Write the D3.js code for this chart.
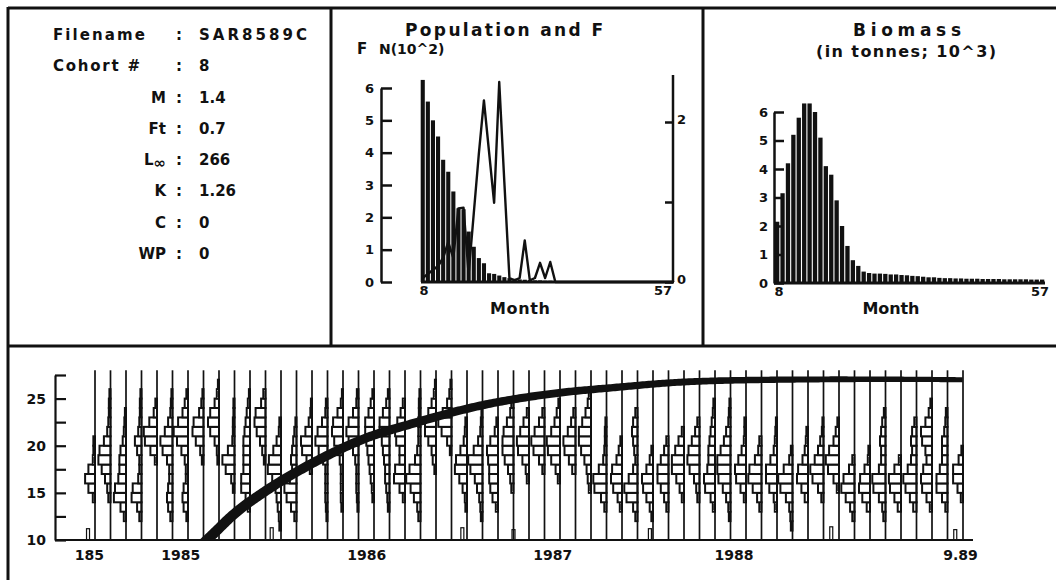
<!DOCTYPE html>
<html>
<head>
<meta charset="utf-8">
<script src="https://cdn.jsdelivr.net/npm/d3@7"></script>
<style>
  body { margin: 0; background: #fff; }
  svg { display: block; }
  text { font-family: "DejaVu Sans", sans-serif; font-weight: bold; fill: #111; }
</style>
</head>
<body>
<div id="chart"></div>
<script>
// ---- run parameters (left panel)
const paramNames = ["Filename", "Cohort #", "M", "Ft", "L", "K", "C", "WP"];
const paramValues = ["SAR8589C", "8", "1.4", "0.7", "266", "1.26", "0", "0"];

// ---- monthly series for top panels (months 8..57)
const months = d3.range(8, 58);
const population = [6.25, 5.58, 5.0, 4.5, 3.78, 3.41, 2.8, 2.28, 2.25, 1.56,
  1.09, 0.74, 0.58, 0.27, 0.25, 0.2, 0.15, 0.12, 0.1, 0.08,
  0.07, 0.06, 0.05, 0.05, 0.04, 0.04, 0.03, 0.03, 0.03, 0.02,
  0.02, 0.02, 0.02, 0.02, 0.01, 0.01, 0.01, 0.01, 0.01, 0.01,
  0.01, 0.01, 0.01, 0.01, 0.01, 0.01, 0.01, 0.01, 0.01, 0.01];
const fishingF = [0.05, 0.1, 0.15, 0.2, 0.3, 0.5, 0.3, 0.92, 0.93, 0.1,
  0.85, 1.6, 2.27, 1.63, 0.99, 2.5, 1.25, 0.05, 0.02, 0.05,
  0.52, 0.02, 0.05, 0.24, 0.05, 0.25, 0, 0, 0, 0,
  0, 0, 0, 0, 0, 0, 0, 0, 0, 0,
  0, 0, 0, 0, 0, 0, 0, 0, 0, 0];
const biomass = [2.15, 3.15, 4.2, 5.2, 5.8, 6.3, 6.3, 6.0, 5.1, 4.1,
  3.8, 2.9, 2.0, 1.3, 0.8, 0.6, 0.4, 0.35, 0.33, 0.33,
  0.32, 0.3, 0.3, 0.28, 0.27, 0.25, 0.24, 0.22, 0.2, 0.2,
  0.18, 0.17, 0.17, 0.16, 0.16, 0.15, 0.15, 0.15, 0.14, 0.14,
  0.14, 0.14, 0.13, 0.13, 0.13, 0.13, 0.13, 0.12, 0.12, 0.12];
const nTicks = [0, 1, 2, 3, 4, 5, 6];
const fTicks = [0, 1, 2];
const fLabels = ["0", "", "2"];

// ---- length-frequency samples (months 1..57): first 1-cm class and % per class
const lfMonths = d3.range(1, 58);
const lfStart = [14, 14, 12, 12, 18, 12, 12, 18, 18, 15,
  13, 18, 11, 12, 17, 12, 13, 13, 14, 13,
  14, 12, 17, 19, 13, 12, 13, 15, 16, 17,
  16, 17, 15, 13, 13, 12, 12, 13, 14, 14,
  13, 12, 14, 13, 13, 11, 14, 14, 15, 12,
  13, 12, 13, 13, 13, 13, 14];
const lfFreq = [
  [4, 12, 18, 12, 4, 3, 3],
  [4, 6, 10, 16, 22, 20, 12, 6, 4, 3, 3, 2],
  [4, 10, 22, 20, 14, 12, 12, 10, 6, 4, 3, 2],
  [4, 8, 18, 16, 6, 4, 4, 8, 12, 6, 4, 3, 3, 2],
  [4, 12, 22, 24, 14, 6, 3],
  [4, 8, 10, 8, 6, 6, 10, 18, 22, 14, 8, 4, 3, 2],
  [3, 8, 10, 8, 4, 4, 6, 12, 20, 26, 18, 10, 6, 3],
  [3, 6, 14, 20, 18, 8, 4, 2],
  [3, 4, 8, 16, 20, 16, 8, 4, 2],
  [3, 6, 16, 22, 12, 4, 3, 3, 2, 2],
  [4, 8, 16, 16, 12, 12, 12, 12, 10, 8, 6, 4, 2],
  [3, 6, 10, 16, 20, 18, 8, 4],
  [3, 4, 6, 8, 10, 16, 24, 22, 14, 8, 4, 3],
  [4, 10, 18, 22, 12, 8, 10, 8, 6, 4, 2],
  [4, 10, 18, 20, 12, 6, 3, 2],
  [2, 3, 4, 4, 4, 4, 8, 16, 22, 18, 10, 4, 3],
  [3, 4, 4, 4, 4, 6, 10, 16, 20, 18, 10, 4, 2],
  [2, 3, 4, 4, 4, 6, 10, 18, 22, 18, 10, 4, 3],
  [3, 4, 6, 8, 10, 12, 14, 16, 16, 10, 6, 3],
  [3, 4, 6, 8, 8, 10, 12, 14, 18, 18, 12, 6, 3],
  [4, 10, 20, 18, 10, 10, 16, 18, 14, 8, 4],
  [4, 6, 12, 18, 26, 20, 10, 6, 4, 4, 4, 3, 3, 2],
  [3, 6, 8, 14, 20, 20, 14, 8, 4, 2],
  [3, 8, 18, 24, 16, 8, 4, 2],
  [3, 4, 8, 14, 22, 20, 12, 6, 4, 3],
  [3, 4, 6, 10, 14, 22, 26, 16, 8, 4, 3, 2],
  [4, 10, 14, 16, 16, 18, 20, 14, 6, 3],
  [4, 6, 10, 16, 20, 20, 18, 12, 6, 4],
  [4, 6, 12, 20, 22, 16, 10, 4],
  [4, 10, 20, 24, 18, 10, 4],
  [4, 8, 16, 22, 24, 16, 10, 6, 3],
  [6, 12, 20, 22, 14, 8, 4],
  [4, 6, 8, 12, 18, 22, 22, 16, 10, 6, 4],
  [4, 10, 22, 24, 14, 6, 4, 3, 3, 2],
  [4, 8, 16, 20, 18, 10, 6, 3],
  [4, 8, 20, 24, 16, 8, 4, 6, 8, 10, 8, 4],
  [3, 6, 12, 18, 20, 12, 6, 3],
  [4, 8, 14, 20, 20, 14, 8, 4],
  [4, 8, 14, 22, 22, 16, 10, 4],
  [4, 6, 10, 18, 22, 20, 14, 8, 4],
  [4, 8, 18, 20, 14, 12, 12, 10, 8, 6, 4, 3],
  [3, 4, 8, 14, 22, 24, 24, 18, 12, 8, 4, 3, 2],
  [4, 10, 18, 20, 14, 8, 4, 3, 3],
  [4, 8, 16, 24, 22, 12, 6, 4],
  [4, 6, 14, 20, 20, 12, 6, 4, 3, 2],
  [3, 4, 6, 12, 22, 26, 16, 6, 3],
  [6, 12, 20, 18, 10, 6, 4, 3],
  [4, 10, 20, 24, 16, 10, 6, 3, 2],
  [4, 10, 20, 24, 18, 10, 6, 3],
  [4, 8, 16, 24, 20, 10, 4],
  [6, 14, 20, 18, 10, 4, 3],
  [4, 6, 12, 22, 24, 12, 8, 8, 10, 8, 6, 3],
  [6, 12, 20, 22, 12, 4],
  [6, 12, 20, 24, 16, 10, 8, 10, 8, 4],
  [4, 10, 18, 20, 16, 10, 12, 18, 20, 12, 6, 3],
  [4, 10, 20, 20, 14, 10, 10, 10, 6, 4, 3],
  [4, 10, 18, 18, 8, 3]
];
// small stubs near the baseline
const stubMonth = [0.55, 12.4, 24.7, 28.0, 36.8, 48.5, 56.5];
const stubTop = [11.2, 11.3, 11.3, 11.1, 11.2, 11.4, 11.1];

// growth curve
const growthMonth = [7.9, 8.6, 9.9, 12.1, 14.2, 16.4, 18.0, 21.8, 26.0, 30.4, 34.7, 38.9, 45, 51, 57];
const growthLength = [9.5, 10.6, 12.65, 15.3, 17.4, 19.3, 20.5, 22.5, 24.3, 25.5, 26.2, 26.75, 27.0, 27.05, 27.0];

const lengthTicks = d3.range(10, 28, 2.5);
const yearTickMonth = [0.6, 6.5, 18.5, 30.5, 42.2, 56.8];
const yearLabels = ["185", "1985", "1986", "1987", "1988", "9.89"];

const W = 1056, H = 580, ink = "#111";
const svg = d3.select("#chart").append("svg").attr("width", W).attr("height", H);

// ---- frame
const frame = svg.append("g").attr("stroke", ink).attr("stroke-width", 3);
frame.append("line").attr("x1", 8).attr("x2", W).attr("y1", 8).attr("y2", 8);
frame.append("line").attr("x1", 8).attr("x2", 8).attr("y1", 7).attr("y2", H);
frame.append("line").attr("x1", 331).attr("x2", 331).attr("y1", 8).attr("y2", 346);
frame.append("line").attr("x1", 703).attr("x2", 703).attr("y1", 8).attr("y2", 346);
frame.append("line").attr("x1", 8).attr("x2", W).attr("y1", 346).attr("y2", 346);

// ---- left panel text
const rowY = d3.scalePoint().domain(paramNames).range([40, 259]);
const info = svg.append("g").style("font-size", "15px");
paramNames.forEach((name, i) => {
  const y = rowY(name);
  const t = info.append("text").attr("y", y);
  if (i < 2) {
    t.attr("x", 53).attr("textLength", i === 0 ? 92 : 87).text(name);
  } else {
    t.attr("x", 166).attr("text-anchor", "end").text(name);
    if (name === "L") t.append("tspan").attr("dy", 3).style("font-size", "15px").text("\u221E");
  }
  info.append("text").attr("x", 179).attr("y", y).attr("text-anchor", "middle").text(":");
  const v = info.append("text").attr("x", 199).attr("y", y).text(paramValues[i]);
  if (i === 0) v.attr("textLength", 108);
});

// ---- middle panel: population and F
const xP = d3.scaleLinear().domain([8, 57]).range([421, 671]);
const yN = d3.scaleLinear().domain([0, 6]).range([282, 88]);
const yF = d3.scaleLinear().domain([0, 2]).range([282, 122]);
const mid = svg.append("g");

mid.append("text").attr("x", 504).attr("y", 36).attr("text-anchor", "middle")
  .attr("textLength", 198).style("font-size", "17px").text("Population and F");
mid.append("text").attr("x", 357).attr("y", 54).style("font-size", "15px").text("F");
mid.append("text").attr("x", 379).attr("y", 54).style("font-size", "14px").text("N(10^2)");

mid.selectAll("rect.pop").data(population).join("rect").attr("class", "pop")
  .attr("x", (d, i) => xP(months[i]) - 0.3)
  .attr("y", d => yN(d))
  .attr("width", 4.1)
  .attr("height", d => yN(0) - yN(d))
  .attr("fill", ink);

mid.append("path")
  .attr("d", d3.line().x((d, i) => xP(months[i]) + 1.7).y(d => yF(d))(fishingF))
  .attr("fill", "none").attr("stroke", ink).attr("stroke-width", 2.4).attr("stroke-linejoin", "round");

mid.append("g").attr("transform", "translate(381,0)")
  .call(d3.axisLeft(yN).tickValues(nTicks).tickSizeInner(-11).tickSizeOuter(0).tickPadding(7).tickFormat(d3.format("d")));
const fAxis = mid.append("g").attr("transform", "translate(673,0)")
  .call(d3.axisRight(yF).tickValues(fTicks).tickSizeInner(-8).tickSizeOuter(0).tickPadding(4)
    .tickFormat((d, i) => fLabels[i]));
fAxis.select(".domain").remove();
fAxis.append("line").attr("x1", 0).attr("x2", 0).attr("y1", yF(0)).attr("y2", 75)
  .attr("stroke", ink).attr("stroke-width", 2.5);
fAxis.selectAll(".tick text").attr("dy", "0.1em");

mid.append("line").attr("x1", xP(8)).attr("x2", 674).attr("y1", yN(0)).attr("y2", yN(0))
  .attr("stroke", ink).attr("stroke-width", 3);
mid.append("text").attr("x", xP(8) + 3).attr("y", 295).attr("text-anchor", "middle").style("font-size", "13px").text("8");
mid.append("text").attr("x", 663).attr("y", 295).attr("text-anchor", "middle").style("font-size", "13px").text("57");
mid.append("text").attr("x", 520).attr("y", 314).attr("text-anchor", "middle")
  .attr("textLength", 60).style("font-size", "16px").text("Month");

// ---- right panel: biomass
const xB = d3.scaleLinear().domain([8, 57]).range([775, 1040]);
const yB = d3.scaleLinear().domain([0, 6]).range([283, 112]);
const bio = svg.append("g");

bio.append("text").attr("x", 907).attr("y", 36).attr("text-anchor", "middle")
  .attr("textLength", 108).style("font-size", "17px").text("Biomass");
bio.append("text").attr("x", 906).attr("y", 57).attr("text-anchor", "middle")
  .attr("textLength", 180).style("font-size", "16px").text("(in tonnes; 10^3)");

bio.selectAll("rect").data(biomass).join("rect")
  .attr("x", (d, i) => xB(months[i]))
  .attr("y", d => yB(d))
  .attr("width", 4.3)
  .attr("height", d => yB(0) - yB(d))
  .attr("fill", ink);

bio.append("g").attr("transform", "translate(774,0)")
  .call(d3.axisLeft(yB).tickValues(nTicks).tickSizeInner(-10).tickSizeOuter(0).tickPadding(6).tickFormat(d3.format("d")));
bio.append("line").attr("x1", 774).attr("x2", 1045).attr("y1", yB(0)).attr("y2", yB(0))
  .attr("stroke", ink).attr("stroke-width", 3);
bio.append("text").attr("x", 779).attr("y", 296).attr("text-anchor", "middle").style("font-size", "13px").text("8");
bio.append("text").attr("x", 1040).attr("y", 296).attr("text-anchor", "middle").style("font-size", "13px").text("57");
bio.append("text").attr("x", 891).attr("y", 314).attr("text-anchor", "middle")
  .attr("textLength", 57).style("font-size", "16px").text("Month");

// top axes styling
svg.selectAll(".tick text").style("font-size", "13px").style("font-family", "DejaVu Sans").style("font-weight", "bold").attr("fill", ink);
mid.selectAll(".domain, .tick line").attr("stroke", ink).attr("stroke-width", 2.5);
bio.selectAll(".domain, .tick line").attr("stroke", ink).attr("stroke-width", 2.5);

// ---- bottom panel: length-frequency with growth curve
const xM = d3.scaleLinear().domain([1, 57]).range([95, 963]);
const yL = d3.scaleLinear().domain([10, 27.5]).range([540, 375]);
const wF = d3.scaleLinear().domain([0, 30]).range([0, 16.5]);
const low = svg.append("g");

const hist = low.append("g");
lfMonths.forEach((m, i) => {
  hist.append("g").selectAll("rect").data(lfFreq[i]).join("rect")
    .attr("x", d => xM(m) - wF(d))
    .attr("y", (d, j) => yL(lfStart[i] + j + 1))
    .attr("width", d => wF(d))
    .attr("height", (d, j) => yL(lfStart[i] + j) - yL(lfStart[i] + j + 1))
    .attr("fill", "#fff").attr("stroke", ink).attr("stroke-width", 2);
});

low.selectAll("rect.stub").data(stubMonth).join("rect").attr("class", "stub")
  .attr("x", d => xM(d) - 1.5)
  .attr("y", (d, i) => yL(stubTop[i]))
  .attr("width", 3)
  .attr("height", (d, i) => yL(10) - yL(stubTop[i]))
  .attr("fill", "#fff").attr("stroke", ink).attr("stroke-width", 1.2);

low.selectAll("line.base").data(lfMonths).join("line").attr("class", "base")
  .attr("x1", d => xM(d)).attr("x2", d => xM(d))
  .attr("y1", yL(10)).attr("y2", yL(28))
  .attr("stroke", ink).attr("stroke-width", 1.7);

// growth band, tapering from thick to thin
svg.append("clipPath").attr("id", "plotClip").append("rect")
  .attr("x", 56).attr("y", 355).attr("width", 920).attr("height", yL(10) - 355);
const guide = low.append("path")
  .attr("d", d3.line().x(d => xM(d)).y((d, i) => yL(growthLength[i])).curve(d3.curveMonotoneX)(growthMonth))
  .attr("fill", "none").attr("stroke", "none");
const gNode = guide.node(), gLen = gNode.getTotalLength();
const sideA = [], sideB = [];
for (let s = 0; s <= gLen + 0.01; s += 2) {
  const sc = Math.min(s, gLen);
  const p = gNode.getPointAtLength(sc);
  const q = gNode.getPointAtLength(Math.min(gLen, sc + 1));
  const r = gNode.getPointAtLength(Math.max(0, sc - 1));
  const dx = q.x - r.x, dy = q.y - r.y, n = Math.hypot(dx, dy) || 1;
  const half = (10.5 - 5.5 * sc / gLen) / 2;
  sideA.push([p.x - dy / n * half, p.y + dx / n * half]);
  sideB.push([p.x + dy / n * half, p.y - dx / n * half]);
}
low.append("path").attr("clip-path", "url(#plotClip)")
  .attr("d", d3.line()(sideA.concat(sideB.reverse())) + "Z")
  .attr("fill", ink);

// axes
const lAxis = low.append("g").attr("transform", "translate(55,0)")
  .call(d3.axisLeft(yL).tickValues(lengthTicks).tickSizeInner(-11).tickSizeOuter(0).tickPadding(9)
    .tickFormat(d => d % 5 === 0 ? d : ""));
lAxis.selectAll(".domain, .tick line").attr("stroke", ink).attr("stroke-width", 2.2);
lAxis.selectAll(".tick text").style("font-size", "14px").style("font-family", "DejaVu Sans").style("font-weight", "bold").attr("fill", ink);

low.append("line").attr("x1", 55).attr("x2", 973).attr("y1", yL(10)).attr("y2", yL(10))
  .attr("stroke", ink).attr("stroke-width", 2.2);
const tAxis = low.append("g").attr("transform", `translate(0,${yL(10)})`)
  .call(d3.axisBottom(xM).tickValues(yearTickMonth).tickSize(0).tickPadding(10)
    .tickFormat((d, i) => yearLabels[i]));
tAxis.select(".domain").remove();
tAxis.selectAll(".tick text").style("font-size", "14px").style("font-family", "DejaVu Sans").style("font-weight", "bold").attr("fill", ink);
</script>
</body>
</html>
